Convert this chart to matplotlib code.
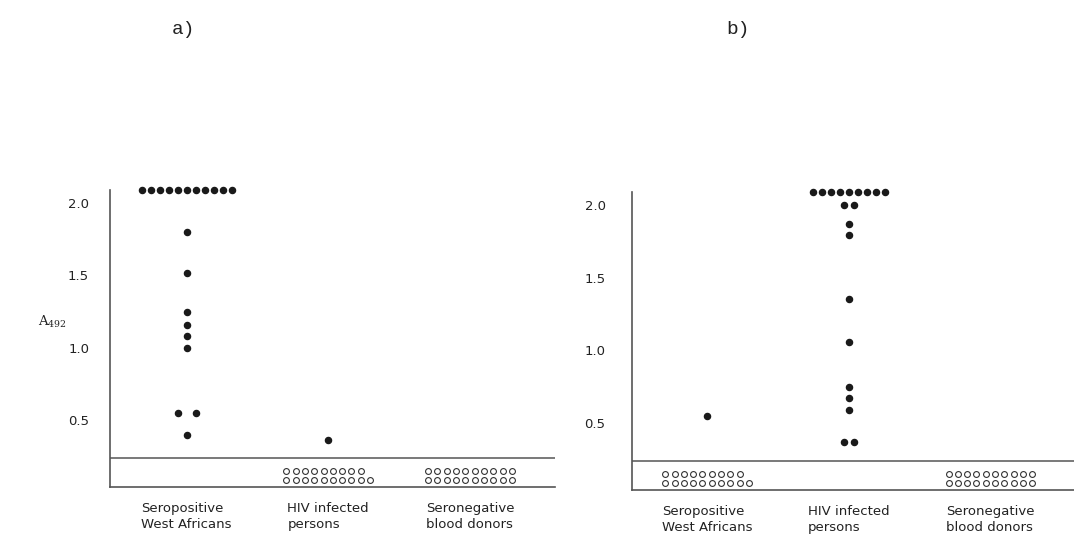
import matplotlib
matplotlib.use("Agg")
import matplotlib.pyplot as plt
import numpy as np

# ---- data -------------------------------------------------------------
categories = ["Seropositive\nWest Africans", "HIV infected\npersons", "Seronegative\nblood donors"]

# panel a): measured absorbances per group, count above 2.0, count below cutoff
a_values = [[1.80, 1.52, 1.25, 1.16, 1.08, 1.00, 0.55, 0.55, 0.40], [0.36], []]
a_above = [11, 0, 0]
a_below = [0, 19, 20]

# panel b)
b_values = [[0.55], [2.00, 2.00, 1.87, 1.79, 1.35, 1.06, 0.75, 0.67, 0.59, 0.37, 0.37], []]
b_above = [0, 9, 0]
b_below = [19, 0, 20]

cutoff = 0.24
ytick_values = [0.5, 1.0, 1.5, 2.0]
ytick_labels = ["0.5", "1.0", "1.5", "2.0"]

# ---- style --------------------------------------------------------------
W, H = 1074, 535
INK = "#222222"
LINE = "#555555"
plt.rcParams["font.family"] = ["DejaVu Sans"]
plt.rcParams["mathtext.fontset"] = "dejavuserif"

fig = plt.figure(figsize=(W / 100, H / 100), dpi=100)


def px_box(left, top, right, bottom):
    return [left / W, (H - bottom) / H, (right - left) / W, (bottom - top) / H]


def draw_panel(box, values, above, below, xlim, ylim, pair_gap, ypad):
    ax = fig.add_axes(px_box(*box))
    ax.set_xlim(*xlim)
    ax.set_ylim(*ylim)
    width_px = box[2] - box[0]
    unit = width_px / (xlim[1] - xlim[0])  # pixels per x unit
    dot_ms = 4.4
    step = 9.0 / unit
    open_step = 9.3 / unit

    for gi, vals in enumerate(values):
        # filled dots, duplicates set side by side
        uniq = []
        for v in vals:
            if v not in uniq:
                uniq.append(v)
        for v in uniq:
            n = vals.count(v)
            offs = (np.arange(n) - (n - 1) / 2) * pair_gap / unit
            ax.plot(gi + offs, [v] * n, "o", ms=dot_ms, color="#1a1a1a",
                    mec="#1a1a1a", clip_on=False, zorder=3)
        # row of values beyond the top of the scale
        if above[gi]:
            n = above[gi]
            xs = gi + (np.arange(n) - (n - 1) / 2) * step
            ax.plot(xs, [ylim[1]] * n, "o", ms=dot_ms, color="#1a1a1a",
                    clip_on=False, zorder=3)
        # negative samples below cutoff, two rows of open circles
        if below[gi]:
            n = below[gi]
            n_low = int(np.ceil(n / 2))
            n_high = n - n_low
            x0 = gi - (n_low - 1) / 2 * open_step
            ax.plot(x0 + np.arange(n_low) * open_step, [0.088] * n_low, "o",
                    ms=4.2, mfc="white", mec="#333333", mew=0.8, clip_on=False)
            ax.plot(x0 + np.arange(n_high) * open_step, [0.146] * n_high, "o",
                    ms=4.2, mfc="white", mec="#333333", mew=0.8, clip_on=False)

    ax.axhline(cutoff, color=LINE, lw=1.1)
    for s in ("top", "right"):
        ax.spines[s].set_visible(False)
    for s in ("left", "bottom"):
        ax.spines[s].set_color(LINE)
        ax.spines[s].set_linewidth(1.2)

    ax.set_yticks(ytick_values, ytick_labels)
    ax.tick_params(axis="y", length=0, pad=ypad, labelsize=9.5, labelcolor=INK)
    ax.set_xticks(range(len(categories)), categories)
    ax.tick_params(axis="x", length=0, pad=11, labelsize=9.5, labelcolor=INK)
    for lab in ax.get_xticklabels():
        lab.set_multialignment("left")
        lab.set_linespacing(1.25)
    ax.set_facecolor("none")
    return ax


draw_panel((110, 190, 555, 487), a_values, a_above, a_below,
           (-0.54, 2.60), (0.038, 2.09), 18, 15)
draw_panel((632, 192, 1074, 490), b_values, b_above, b_below,
           (-0.53, 2.59), (0.039, 2.089), 10, 19)

fig.text(38 / W, 1 - 322 / H, r"$\mathrm{A}_{492}$", fontsize=9.5, color=INK,
         ha="left", va="center")
fig.text(172 / W, 1 - 29 / H, "a)", family="Liberation Mono", fontsize=14,
         color=INK, ha="left", va="center")
fig.text(726 / W, 1 - 29 / H, "b)", family="Liberation Mono", fontsize=14,
         color=INK, ha="left", va="center")

fig.savefig("out.png", dpi=100)
